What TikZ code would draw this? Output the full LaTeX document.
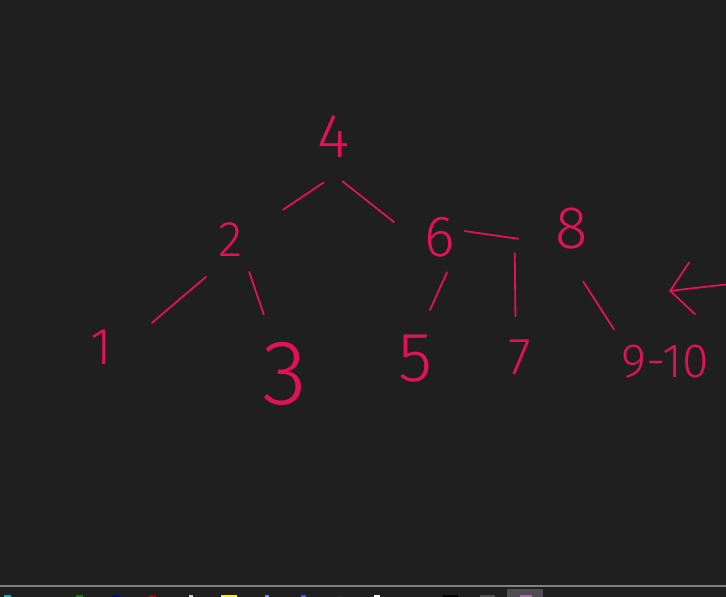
\documentclass[tikz,border=0pt]{standalone}
\usepackage{xcolor}
\usepackage{fontspec}
\usepackage{tikz}
\usetikzlibrary{arrows.meta}
\newfontfamily\handfont{Fira Sans Light}
\definecolor{boardbg}{RGB}{31,31,31}
\definecolor{inkred}{RGB}{225,18,88}
\definecolor{barline}{RGB}{130,130,130}
\definecolor{barbox}{RGB}{78,78,78}

\begin{document}
\begin{tikzpicture}[x=1pt, y=-1pt,
    digit/.style={circle, inner sep=0pt, minimum size=#1, text=inkred},
    stroke/.style={draw=inkred, line width=1.8pt, line cap=round}]
  % board and taskbar
  \fill[boardbg] (0,0) rectangle (726,597);
  \useasboundingbox (0,0) rectangle (726,597);
  \fill[barline] (0,585) rectangle (726,587);
  \fill[barbox] (507,589) rectangle (543,597);
  \foreach \x/\w/\c in {4/7/cyan!80!black, 76/7/green!50!black, 112/7/blue!60!black,
      149/7/red!70!black, 189/4/gray!40, 221/16/yellow, 265/4/blue!50,
      301/5/blue!70, 338/5/gray!30!black, 374/6/white, 443/15/black,
      480/15/gray!60!black, 520/12/violet!60}
    \fill[\c] (\x,595) rectangle ++(\w,2);

  % keys
  \node[digit=90pt, font=\handfont\fontsize{62}{62}\selectfont] (n4) at (334,137) {4};
  \node[digit=74pt, font=\handfont\fontsize{50}{50}\selectfont] (n2) at (230,240) {2};
  \node[digit=54pt, font=\handfont\fontsize{58}{58}\selectfont] (n6) at (440,237) {6};
  \node[digit=124pt, font=\handfont\fontsize{60}{60}\selectfont] (n8) at (572,229) {8};
  \node[digit=80pt, font=\handfont\fontsize{52}{52}\selectfont] (n1) at (101,347) {1};
  \node[digit=84pt, font=\handfont\fontsize{92}{92}\selectfont] (n3) at (285,374) {3};
  \node[digit=64pt, font=\handfont\fontsize{70}{70}\selectfont] (n5) at (416,359) {5};
  \node[digit=50pt, font=\handfont\fontsize{52}{52}\selectfont] (n7) at (520,357) {7};
  \node[digit=110pt, font=\handfont\fontsize{48}{48}\selectfont] (n9) at (665,362) {9-10};

  % links
  \draw[stroke, shorten <=2pt, shorten >=24pt] (n4.259) -- (n2.27);
  \draw[stroke, shorten >=24pt] (n4.281) -- (n6.180);
  \draw[stroke, shorten <=-2pt, shorten >=-8pt] (n6.12) -- (n8.188);
  \draw[stroke, shorten <=7pt, shorten >=17pt] (n2.240) -- (n1.19);
  \draw[stroke, shorten >=21pt] (n2.301) -- (n3.110);
  \draw[stroke, shorten <=12pt, shorten >=19pt] (n6.296) -- (n5.79);
  \draw[stroke, shorten >=16pt] (n8.203) -- (n7.100);
  \draw[stroke, shorten <=-9pt, shorten >=6pt] (n8.285) -- (n9.150);

  % pointer at the right edge
  \coordinate (tail) at (730,284);
  \coordinate (tip) at (669,291);
  \draw[stroke, -{Straight Barb[length=22pt, width=52pt, line cap=round]}] (tail) -- (tip);
\end{tikzpicture}
\end{document}
